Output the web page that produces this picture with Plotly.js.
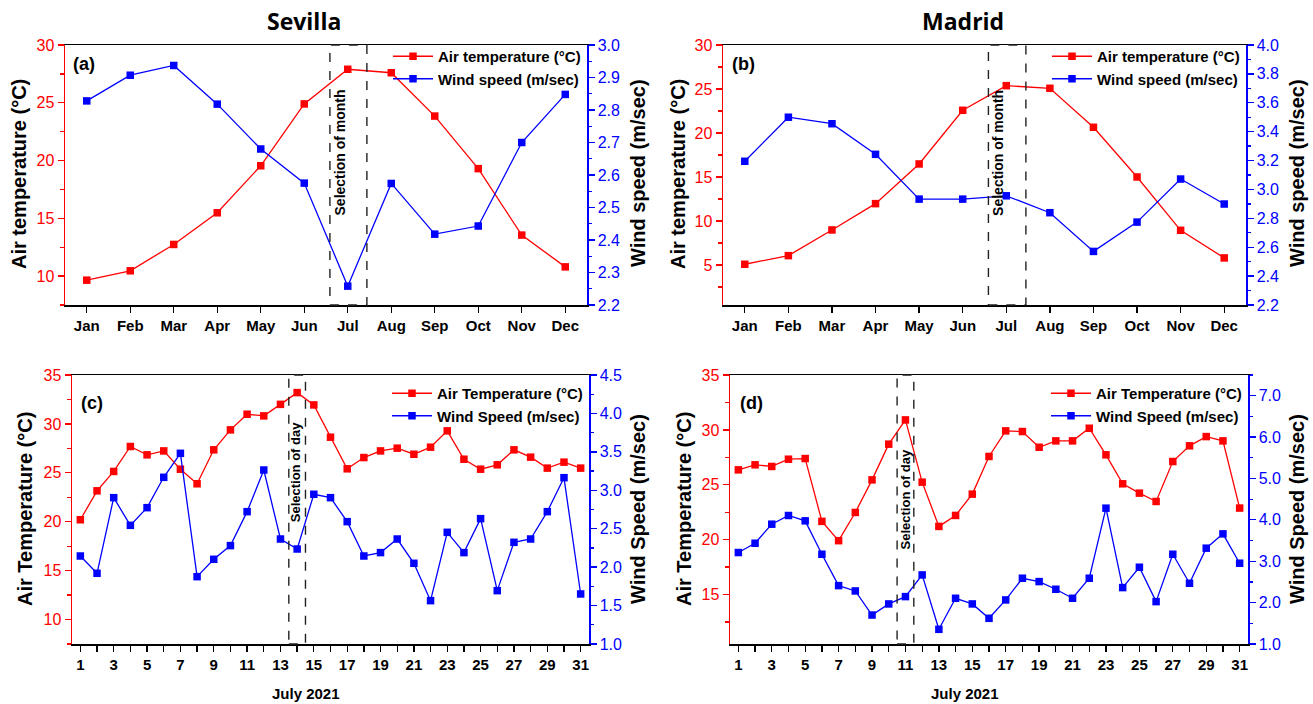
<!DOCTYPE html>
<html><head><meta charset="utf-8">
<script src="https://cdn.plot.ly/plotly-3.0.1.min.js"></script>
<style>html,body{margin:0;padding:0;background:#fff}#chart{width:1313px;height:704px}</style>
</head><body><div id="chart"></div>
<script>
// ---------- data ----------
const months = ['Jan','Feb','Mar','Apr','May','Jun','Jul','Aug','Sep','Oct','Nov','Dec'];
const sevillaTempMonthly = [9.65, 10.46, 12.74, 15.48, 19.55, 24.9, 27.9, 27.6, 23.85, 19.3, 13.55, 10.8];
const sevillaWindMonthly = [2.828, 2.907, 2.937, 2.818, 2.68, 2.575, 2.258, 2.574, 2.418, 2.443, 2.70, 2.848];
const madridTempMonthly = [5.08, 6.06, 8.98, 11.97, 16.48, 22.58, 25.38, 25.08, 20.65, 15.0, 8.94, 5.8];
const madridWindMonthly = [3.195, 3.50, 3.455, 3.243, 2.933, 2.933, 2.956, 2.839, 2.571, 2.774, 3.072, 2.899];

const days = [1,2,3,4,5,6,7,8,9,10,11,12,13,14,15,16,17,18,19,20,21,22,23,24,25,26,27,28,29,30,31];
const sevillaTempDaily = [20.2, 23.16, 25.14, 27.69, 26.84, 27.24, 25.37, 23.88, 27.35, 29.39, 30.99, 30.82, 32.0, 33.2, 31.94,
  28.64, 25.41, 26.56, 27.24, 27.52, 26.9, 27.62, 29.29, 26.39, 25.37, 25.82, 27.35, 26.6, 25.48, 26.09, 25.48];
const sevillaWindDaily = [2.145, 1.92, 2.904, 2.544, 2.774, 3.169, 3.481, 1.876, 2.102, 2.28, 2.722, 3.264, 2.366, 2.236, 2.948,
  2.904, 2.592, 2.145, 2.189, 2.366, 2.05, 1.564, 2.453, 2.189, 2.631, 1.694, 2.323, 2.366, 2.722, 3.164, 1.651];
const madridTempDaily = [26.36, 26.82, 26.67, 27.33, 27.39, 21.67, 19.91, 22.48, 25.45, 28.7, 30.91, 25.24, 21.21, 22.21, 24.15,
  27.58, 29.91, 29.85, 28.42, 29.0, 29.0, 30.15, 27.73, 25.09, 24.24, 23.48, 27.12, 28.55, 29.39, 29.0, 22.88];
const madridWindDaily = [3.21, 3.435, 3.895, 4.105, 3.976, 3.169, 2.411, 2.282, 1.70, 1.968, 2.145, 2.669, 1.355, 2.105, 1.968,
  1.621, 2.065, 2.589, 2.508, 2.323, 2.105, 2.589, 4.282, 2.363, 2.855, 2.024, 3.169, 2.468, 3.315, 3.661, 2.952];

const dayTickVals = [1,3,5,7,9,11,13,15,17,19,21,23,25,27,29,31];

// ---------- style ----------
const RED = '#FF0000', BLUE = '#0000FF', BLK = '#000000';
const F = 'Liberation Sans, Arial, sans-serif';
const W = 1313, H = 704;
const px = v => v / W;
const py = v => 1 - v / H;

function tr(x, y, name, color, xa, ya, leg) {
  return {x: x, y: y, name: name, type: 'scatter', mode: 'lines+markers',
    line: {color: color, width: 1.3}, marker: {symbol: 'square', size: 7.5, color: color},
    xaxis: xa, yaxis: ya, legend: leg};
}

const data = [
  tr(months, sevillaTempMonthly, 'Air temperature (°C)', RED, 'x', 'y', 'legend'),
  tr(months, sevillaWindMonthly, 'Wind speed (m/sec)', BLUE, 'x', 'y2', 'legend'),
  tr(months, madridTempMonthly, 'Air temperature (°C)', RED, 'x2', 'y3', 'legend2'),
  tr(months, madridWindMonthly, 'Wind speed (m/sec)', BLUE, 'x2', 'y4', 'legend2'),
  tr(days, sevillaTempDaily, 'Air Temperature (°C)', RED, 'x3', 'y5', 'legend3'),
  tr(days, sevillaWindDaily, 'Wind Speed (m/sec)', BLUE, 'x3', 'y6', 'legend3'),
  tr(days, madridTempDaily, 'Air Temperature (°C)', RED, 'x4', 'y7', 'legend4'),
  tr(days, madridWindDaily, 'Wind Speed (m/sec)', BLUE, 'x4', 'y8', 'legend4')
];

const topDom = [py(305), py(45)];
const botDom = [py(644), py(375)];

function xMonth(dom, anchor) {
  return {domain: dom, anchor: anchor, type: 'category', range: [-0.5, 11.5],
    showline: true, linecolor: BLK, linewidth: 1.5, mirror: true,
    ticks: 'outside', ticklen: 6, tickwidth: 1.3, tickcolor: BLK,
    tickfont: {family: F, size: 15, color: BLK, weight: 'bold'},
    showgrid: false, zeroline: false, fixedrange: true};
}
function xDay(dom, anchor) {
  return {domain: dom, anchor: anchor, range: [0.5, 31.5], tickvals: dayTickVals,
    showline: true, linecolor: BLK, linewidth: 1.5, mirror: true,
    ticks: 'outside', ticklen: 6, tickwidth: 1.3, tickcolor: BLK,
    minor: {ticks: 'outside', ticklen: 6, tickwidth: 1.3, tickcolor: BLK, dtick: 1, tick0: 0, showgrid: false},
    tickfont: {family: F, size: 15, color: BLK, weight: 'bold'},
    showgrid: false, zeroline: false};
}
function xTop(over, anchor) {
  return {overlaying: over, anchor: anchor, side: 'top', range: [0.5, 31.5],
    dtick: 1, tick0: 0, ticks: 'inside', ticklen: 5, tickwidth: 1.3, tickcolor: BLK,
    showticklabels: false, showline: false, showgrid: false, zeroline: false};
}
function yLeft(dom, anchor, range, dtick, minor) {
  return {domain: dom, anchor: anchor, range: range, dtick: dtick, tick0: 0,
    showline: true, linecolor: RED, linewidth: 1.5,
    ticks: 'outside', ticklen: 6, tickwidth: 1.3, tickcolor: RED,
    minor: {ticks: 'outside', ticklen: 3.5, tickwidth: 1.3, tickcolor: RED, dtick: minor, tick0: 0, showgrid: false},
    tickfont: {family: F, size: 16, color: RED},
    showgrid: false, zeroline: false};
}
function yRight(over, anchor, range, dtick, minor) {
  return {overlaying: over, anchor: anchor, side: 'right', range: range, dtick: dtick, tick0: 0,
    tickformat: '.1f',
    showline: true, linecolor: BLUE, linewidth: 1.5,
    ticks: 'outside', ticklen: 6, tickwidth: 1.3, tickcolor: BLUE,
    minor: {ticks: 'outside', ticklen: 3.5, tickwidth: 1.3, tickcolor: BLUE, dtick: minor, tick0: 0, showgrid: false},
    tickfont: {family: F, size: 16, color: BLUE},
    showgrid: false, zeroline: false};
}
function leg(xr, yt) {
  return {x: px(xr), xanchor: 'right', y: py(yt), yanchor: 'top', bgcolor: 'rgba(0,0,0,0)',
    font: {family: F, size: 15, color: BLK, weight: 'bold'}, itemwidth: 40, tracegroupgap: 0};
}

function ann(text, x, y, size, opts) {
  return Object.assign({text: text, xref: 'paper', yref: 'paper', x: px(x), y: py(y),
    xanchor: 'center', yanchor: 'middle', showarrow: false,
    font: {family: F, size: size, color: BLK, weight: 'bold'}}, opts || {});
}
function rotAnn(text, x, y, size) { return ann(text, x, y, size, {textangle: -90}); }
function selText(text, xr, yr, xv, yv, size) {
  return {text: text, xref: xr, yref: yr + ' domain', x: xv, y: yv, textangle: -90,
    xanchor: 'center', yanchor: 'middle', showarrow: false,
    font: {family: F, size: size, color: BLK, weight: 'bold'}};
}
function selRect(xr, yr, x0, x1) {
  return {type: 'rect', xref: xr, yref: yr + ' domain', x0: x0, x1: x1, y0: 0, y1: 1,
    line: {color: '#222', width: 1.4, dash: 'dash'}, fillcolor: 'rgba(0,0,0,0)'};
}

const layout = {
  width: W, height: H, margin: {l: 0, r: 0, t: 0, b: 0},
  paper_bgcolor: '#fff', plot_bgcolor: '#fff', showlegend: true,
  xaxis: xMonth([px(65), px(587)], 'y'),
  yaxis: yLeft(topDom, 'x', [7.5, 30], 5, 2.5),
  yaxis2: yRight('y', 'x', [2.2, 3.0], 0.1, 0.05),
  xaxis2: xMonth([px(723), px(1246)], 'y3'),
  yaxis3: yLeft(topDom, 'x2', [0.45, 30], 5, 2.5),
  yaxis4: yRight('y3', 'x2', [2.2, 4.0], 0.2, 0.1),
  xaxis3: xDay([px(72), px(589)], 'y5'),
  yaxis5: yLeft(botDom, 'x3', [7.5, 35], 5, 2.5),
  yaxis6: yRight('y5', 'x3', [1.0, 4.5], 0.5, 0.25),
  xaxis4: xDay([px(730), px(1248)], 'y7'),
  yaxis7: yLeft(botDom, 'x4', [10.5, 35], 5, 2.5),
  yaxis8: yRight('y7', 'x4', [1.0, 7.5], 1, 0.5),
  xaxis5: xTop('x3', 'y5'),
  xaxis6: xTop('x4', 'y7'),
  legend: leg(586, 40),
  legend2: leg(1245, 40),
  legend3: leg(588, 377),
  legend4: leg(1247, 377),
  shapes: [
    selRect('x', 'y', 5.59, 6.44),
    selRect('x2', 'y3', 5.59, 6.45),
    selRect('x3', 'y5', 13.5, 14.5),
    selRect('x4', 'y7', 10.5, 11.5)
  ],
  annotations: [
    ann('Sevilla', 304, 21, 23, {font: {family: 'Open Sans, sans-serif', size: 23, color: BLK, weight: 'bold'}}),
    ann('Madrid', 963, 21, 23, {font: {family: 'Open Sans, sans-serif', size: 23, color: BLK, weight: 'bold'}}),
    ann('(a)', 84, 64, 18), ann('(b)', 743, 64, 18), ann('(c)', 92, 403, 18), ann('(d)', 751, 403, 18),
    rotAnn('Air temperature (°C)', 19, 174, 20),
    rotAnn('Wind speed (m/sec)', 638, 173, 20),
    rotAnn('Air temperature (°C)', 678, 174, 20),
    rotAnn('Wind speed (m/sec)', 1297, 173, 20),
    rotAnn('Air Temperature (°C)', 25, 509, 20),
    rotAnn('Wind Speed (m/sec)', 638, 509, 20),
    rotAnn('Air Temperature (°C)', 684, 509, 20),
    rotAnn('Wind Speed (m/sec)', 1297, 509, 20),
    ann('July 2021', 306, 693, 15),
    ann('July 2021', 965, 693, 15),
    selText('Selection of month', 'x', 'y', 5.83, 0.588, 14),
    selText('Selection of month', 'x2', 'y3', 5.81, 0.585, 14),
    selText('Selection of day', 'x3', 'y5', 13.88, 0.639, 13),
    selText('Selection of day', 'x4', 'y7', 11.0, 0.539, 13)
  ]
};

Plotly.newPlot('chart', data, layout, {displayModeBar: false, staticPlot: true});
</script>
</body></html>
